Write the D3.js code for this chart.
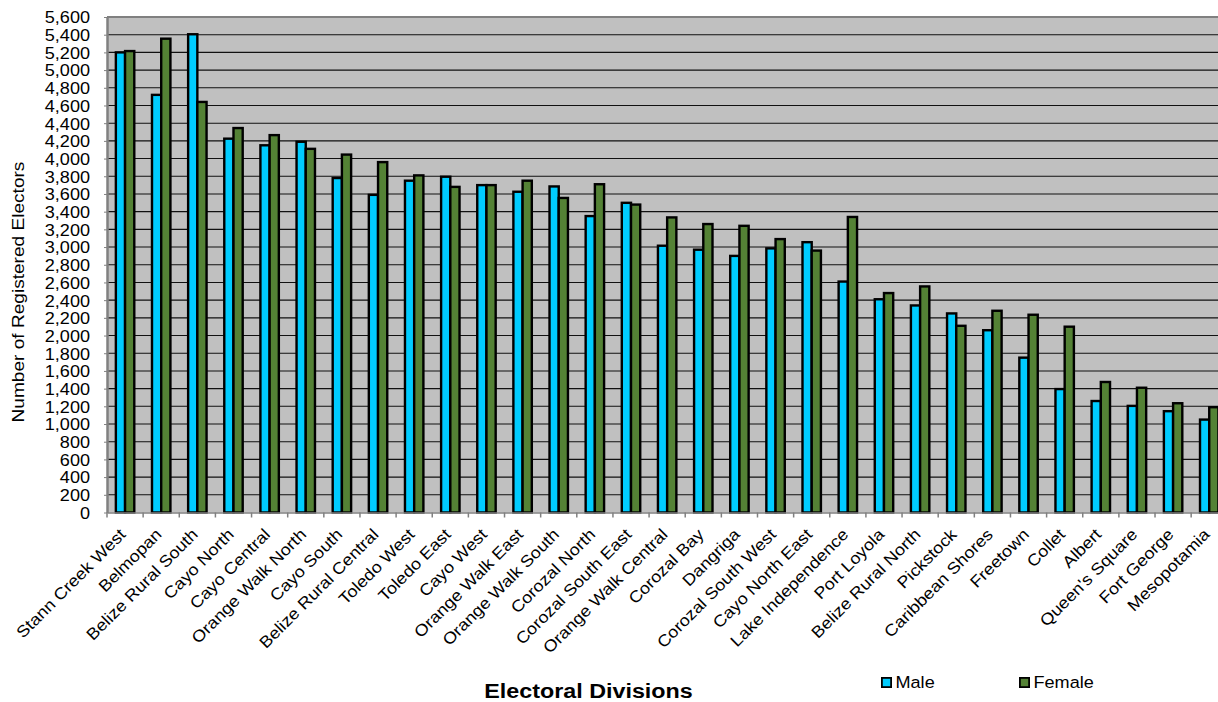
<!DOCTYPE html>
<html>
<head>
<meta charset="utf-8">
<script src="https://cdn.jsdelivr.net/npm/d3@7"></script>
<style>
  html, body { margin: 0; padding: 0; background: #fff; }
  svg { display: block; font-family: "Liberation Sans", Arial, sans-serif; }
</style>
</head>
<body>
<svg id="chart" width="1218" height="702"></svg>
<script>
const categories = ["Stann Creek West","Belmopan","Belize Rural South","Cayo North","Cayo Central","Orange Walk North","Cayo South","Belize Rural Central","Toledo West","Toledo East","Cayo West","Orange Walk East","Orange Walk South","Corozal North","Corozal South East","Orange Walk Central","Corozal Bay","Dangriga","Corozal South West","Cayo North East","Lake Independence","Port Loyola","Belize Rural North","Pickstock","Caribbean Shores","Freetown","Collet","Albert","Queen's Square","Fort George","Mesopotamia"];
const male   = [5200,4720,5405,4225,4150,4190,3780,3590,3750,3795,3700,3625,3685,3350,3500,3015,2970,2900,2985,3055,2610,2410,2340,2250,2060,1750,1395,1260,1205,1145,1050];
const female = [5215,5355,4640,4345,4265,4110,4045,3960,3810,3680,3700,3750,3555,3710,3480,3335,3260,3240,3090,2960,3340,2480,2555,2110,2280,2235,2100,1475,1410,1235,1190];
const seriesNames = ["Male","Female"];
const seriesColors = ["#00CCFF","#548235"];
const yTicks = d3.range(0, 5601, 200);
const yTitle = "Number of Registered Electors";
const xTitle = "Electoral Divisions";

const svg = d3.select("#chart");
const L = 107, R = 1227.3, T = 17, B = 512.5;
const SX = 1.11; // glyph width factor

const x0 = d3.scaleBand().domain(categories).range([L, R]).paddingInner(0.49).paddingOuter(0.245);
const x1 = d3.scaleBand().domain(seriesNames).range([0, x0.bandwidth()]);
const y = d3.scaleLinear().domain([0, 5600]).range([B, T]);

// plot background
svg.append("rect").attr("x", L).attr("y", T).attr("width", R - L).attr("height", B - T).attr("fill", "#C0C0C0");

// gridlines
svg.append("g").selectAll("line").data(yTicks.filter(d => d > 0 && d < 5600)).join("line")
  .attr("x1", L).attr("x2", R).attr("y1", d => y(d)).attr("y2", d => y(d))
  .attr("stroke", "#111").attr("stroke-width", 1.1);

// top border
svg.append("line").attr("x1", L).attr("x2", R).attr("y1", T).attr("y2", T).attr("stroke", "#808080").attr("stroke-width", 2);

// bars
const rows = categories.map((c, i) => ({ cat: c, vals: [male[i], female[i]] }));
const groups = svg.append("g").selectAll("g").data(rows).join("g")
  .attr("transform", d => `translate(${x0(d.cat)},0)`);
groups.selectAll("rect").data(d => d.vals.map((v, k) => ({ v, k }))).join("rect")
  .attr("x", d => x1(seriesNames[d.k]))
  .attr("width", x1.bandwidth())
  .attr("y", d => y(d.v))
  .attr("height", d => y(0) - y(d.v))
  .attr("fill", d => seriesColors[d.k])
  .attr("stroke", "#000").attr("stroke-width", 2.4);

// y axis
const yAxis = svg.append("g").attr("transform", `translate(${L},0)`)
  .call(d3.axisLeft(y).tickValues(yTicks).tickFormat(d3.format(",")).tickSize(3).tickSizeOuter(0));
yAxis.select(".domain").attr("stroke", "#808080").attr("stroke-width", 2.5);
yAxis.selectAll(".tick line").attr("stroke", "#808080");
yAxis.selectAll(".tick text")
  .attr("x", 0).attr("dy", "0.36em")
  .attr("transform", `translate(-17,0) scale(${SX},1)`)
  .attr("font-size", "16.3px").attr("fill", "#000")
  .attr("font-family", "'Liberation Sans', Arial, sans-serif");

// x axis
const xAxis = svg.append("g").attr("transform", `translate(0,${B})`)
  .call(d3.axisBottom(x0).tickSize(0).tickSizeOuter(0));
xAxis.select(".domain").attr("stroke", "#808080").attr("stroke-width", 1.5);
xAxis.selectAll(".tick text")
  .attr("x", 0).attr("y", 0).attr("dy", 0)
  .attr("text-anchor", "end")
  .attr("transform", `translate(1.5,23) rotate(-45) scale(${SX},1)`)
  .attr("font-size", "16.3px").attr("fill", "#000")
  .attr("font-family", "'Liberation Sans', Arial, sans-serif");
// boundary tick marks
const step = x0.step();
const bounds = categories.map(c => x0(c) - step * x0.paddingInner() / 2);
svg.append("g").selectAll("line").data(bounds).join("line")
  .attr("x1", d => d).attr("x2", d => d).attr("y1", B).attr("y2", B + 5)
  .attr("stroke", "#808080").attr("stroke-width", 1.5);

// axis titles
svg.append("text")
  .attr("transform", `translate(23.5,292) rotate(-90) scale(${SX},1)`)
  .attr("text-anchor", "middle").attr("font-size", "17.2px").attr("fill", "#000")
  .text(yTitle);
svg.append("text")
  .attr("transform", `translate(588.5,697.5) scale(${SX},1)`)
  .attr("text-anchor", "middle").attr("font-size", "21px").attr("font-weight", "bold").attr("fill", "#000")
  .text(xTitle);

// legend
const legendX = [881, 1019];
const lg = svg.append("g").selectAll("g").data(seriesNames).join("g")
  .attr("transform", (d, i) => `translate(${legendX[i]},677)`);
lg.append("rect").attr("x", 0.9).attr("y", 0.9).attr("width", 9.2).attr("height", 9.2)
  .attr("fill", (d, i) => seriesColors[i]).attr("stroke", "#000").attr("stroke-width", 1.8);
lg.append("text").attr("transform", `translate(14.5,11.3) scale(${SX},1)`)
  .attr("font-size", "16.3px").attr("fill", "#000").text(d => d);
</script>
</body>
</html>
